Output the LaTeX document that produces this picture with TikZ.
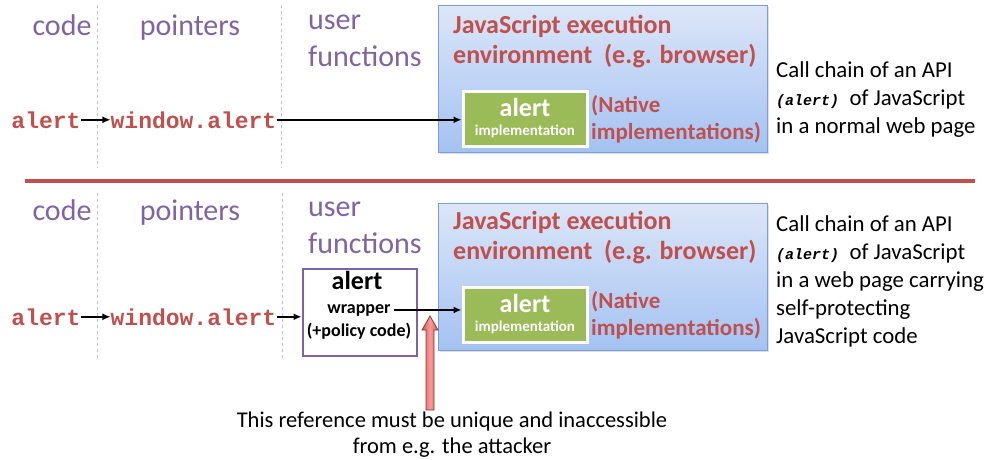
\documentclass[tikz,border=0pt]{standalone}
\usepackage{fontspec}
\setmainfont{Carlito}
\newfontfamily\codefont{Liberation Mono}
\usetikzlibrary{arrows.meta,shadows}
\definecolor{jsred}{HTML}{C0504D}
\definecolor{jspurple}{HTML}{8064A2}
\definecolor{jsgreen}{HTML}{9BBB59}
\definecolor{envtop}{HTML}{DCE6F8}
\definecolor{envbot}{HTML}{A4C2F2}
\definecolor{envline}{HTML}{7A9ED6}
\begin{document}
\begin{tikzpicture}[x=1pt,y=-1pt,every node/.style={inner sep=0pt},
  col/.style={font=\fontsize{30}{37}\selectfont,text=jspurple,align=left},
  code/.style={font=\codefont\bfseries\fontsize{23}{26}\selectfont,text=jsred},
  env/.style={draw=envline,line width=1pt,top color=envtop,bottom color=envbot,minimum width=329pt,minimum height=147pt,drop shadow={opacity=0.25,shadow xshift=1.5pt,shadow yshift=-1.5pt}},
  envtitle/.style={font=\bfseries\fontsize{26}{30}\selectfont,text=jsred,align=left},
  impl/.style={draw=white,line width=3pt,fill=jsgreen,text=white,font=\bfseries,align=center,minimum width=124pt,minimum height=55pt,drop shadow={opacity=0.3,shadow xshift=1pt,shadow yshift=-1pt}},
  native/.style={font=\bfseries\fontsize{23}{27}\selectfont,text=jsred,align=left},
  caption/.style={font=\fontsize{22.8}{28}\selectfont,align=left},
  wrapbox/.style={draw=jspurple,line width=2pt,minimum width=114pt,minimum height=87pt},
  sep/.style={draw=gray!50,dashed,thin},
  call/.style={-{Latex[length=8pt,width=7pt]},line width=2pt},
  refarrow/.style={draw=jsred!70!black,line width=0.8pt,left color=jsred!90,right color=jsred!90,middle color=red!40}]
\useasboundingbox (0,0) rectangle (993,459);
% normal web page
\draw[sep] (97,5) -- (97,168);
\draw[sep] (281,5) -- (281,168);
\node[col,anchor=base] (codeA) at (62,35) {code};
\node[col,anchor=base] (ptrA) at (190,35) {pointers};
\node[col,anchor=base west] (userA) at (308,66) {user\\functions};
\node[code,anchor=base] (alertA) at (46,128) {alert};
\node[code,anchor=base] (winA) at (193.5,128) {window.alert};
\node[env] (envA) at (602.5,79) {};
\node[envtitle,anchor=base west] (titleA) at (453,63) {JavaScript execution\\environment~~(e.g. browser)};
\node[impl] (implA) at (525,118.5) {\fontsize{26}{26}\selectfont alert\\[7pt]\fontsize{15}{15}\selectfont implementation};
\node[native,anchor=base west] (natA) at (591,139) {(Native\\implementations)};
\node[caption,anchor=base west] (capA) at (776,133) {Call chain of an API\\{\codefont\bfseries\itshape\fontsize{15}{15}\selectfont (alert)}~ of JavaScript\\in a normal web page};
\draw[call] (alertA) -- (winA);
\draw[call] (winA.east) -- (winA.east -| implA.west);
% separator
\draw[jsred,line width=4pt] (25,181) -- (975,181);
% self-protecting page
\draw[sep] (97,193) -- (97,358);
\draw[sep] (282,193) -- (282,358);
\node[col,anchor=base] (codeB) at (62,220) {code};
\node[col,anchor=base] (ptrB) at (190,220) {pointers};
\node[col,anchor=base west] (userB) at (308,253) {user\\functions};
\node[code,anchor=base] (alertB) at (46,325) {alert};
\node[code,anchor=base] (winB) at (193.5,325) {window.alert};
\node[wrapbox] (wrapB) at (359.5,312.5) {};
\node[font=\bfseries\fontsize{26}{26}\selectfont,anchor=base] (wrapT) at (357,289) {alert};
\node[font=\bfseries\fontsize{18}{18}\selectfont,anchor=base] (wrapN) at (359,313) {wrapper};
\node[font=\bfseries\fontsize{18}{18}\selectfont,anchor=base] (wrapP) at (359,336) {(+policy code)};
\node[env] (envB) at (602.5,276.5) {};
\node[envtitle,anchor=base west] (titleB) at (453,259) {JavaScript execution\\environment~~(e.g. browser)};
\node[impl] (implB) at (525,314.5) {\fontsize{26}{26}\selectfont alert\\[7pt]\fontsize{15}{15}\selectfont implementation};
\node[native,anchor=base west] (natB) at (591,335) {(Native\\implementations)};
\node[caption,anchor=base west] (capB) at (776,343) {Call chain of an API\\{\codefont\bfseries\itshape\fontsize{15}{15}\selectfont (alert)}~ of JavaScript\\in a web page carrying\\self-protecting\\JavaScript code};
\draw[call] (alertB) -- (winB);
\draw[call] (winB.east) -- (winB.east -| wrapB.west);
\draw[call] (wrapN.east) ++(3,0) -- (wrapN.east -| implB.west);
% the protected reference
\coordinate (guard) at (430,316);
\node[caption,font=\fontsize{22.5}{26}\selectfont,align=center,anchor=base] (noteB) at (452,453) {This reference must be unique and inaccessible\\from e.g. the attacker};
\draw[refarrow] (guard) -- ++(8,14) -- ++(-4,0) -- ++(0,80) -- ++(-8,0) -- ++(0,-80) -- ++(-4,0) -- cycle;
\end{tikzpicture}
\end{document}
